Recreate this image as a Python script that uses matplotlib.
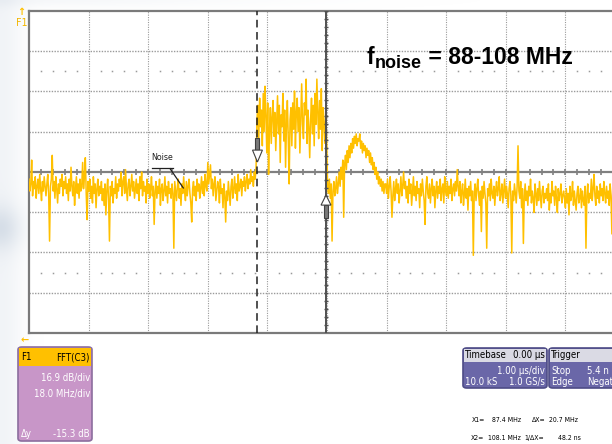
import os
import numpy as np
import matplotlib.pyplot as plt
import matplotlib.font_manager as fm
from matplotlib.patches import Polygon, FancyBboxPatch, Rectangle

# FFT(C3) trace, dB relative to the centre line,
# one value per 0.27 MHz bin starting at the left edge of the grid
noise_left = [-3, -8, -5, 5, -10, -4, -7, -2, -11, -6, -3, -9, -1, -7, -12, -4, -8, -2, -6, -10,
              -5, -1, -9, -29, -6, -3, 7, -8, -4, -11, -2, -7, -13, -5, -9, -3, -6, -1, -10, -4,
              -7, -2, -9, -5, -12, -3, -8, 2, -6, -10, -4, -14, -7, -2, -9, -5, -11, -3, -8, -6,
              4, -7, -2, 6, -9, -20, -4, -8, -3, -11, -6, -13, -2, -9, -5, -15, -7, -3, -10, -6,
              -9, -4, -12, -7, -14, -5, -18, -8, -3, -11, -29, -6, -10, -4, -13, -7, -9, -2, -11, -5,
              -8, -3, -6, 0, -10, -4, -2, -9, 1, -7, -12, -5, -3, -10, -6, -1, -8, -4, -11, -7,
              -3, -9, -5, -12, -2, -7, 0, -10, -4, -8, -6, -13, -3, -9, -5, -11, -7, -2, -10, -6,
              -22, -8, -4, -11, -6, -9, -3, -14, -7, -5, -12, -8, -2, -10, -6, -13, -4, -9, -7, -11,
              -5, -9, -32, -4, -8, -12, -6, -3, -11, -7, -14, -5, -9, -2, -8, -12, -4, -10, -6, -3,
              -9, -13, -21, -7, -4, -10, -6, -12, -3, -8, -5, -11, -7, -2, -9, -4, -10, -1, -6, -8,
              4, -5, -1, 3, -7, -3, -10, -5, -2, -12, -8, -4, -6, -13, -3, -9, -7, -15, -5, -10,
              -21, -8, -12, -4, -9, -14, -6, -3, -11, -7, -2, -9, -5, -12, -1, -8, -6, -3, -10, -4,
              -6, -2, -8, -4, -1, -7, -3, -5, 1, -4, -2, -6, 0, -3, 2]
noise_band = [22, 28, 14, 31, 19, 26, 11, 33, 17, 36, 24, 8, 29, -1, 18, 27, 12, 23, 30, 15,
              25, 9, 21, 32, 16, 28, 4, 24, 19, 33, 13, 26, 2, 20, 30, 14, -5, 22, 27, 11,
              29, 18, 34, 10, 25, 31, 17, 27, 8, 23, 37, 20, 14, 29, 24, 39, 12, 26, 19, 6,
              22, 31, 16, 28, 11, 33, 20, 39, 25, 14, 30, 18, 35, 9, 27, 21, 12, 24]
noise_bump = [12, -6, -9, -3, -11, -5, -29, -8, -4, -10, -7, -2, -9, -5, 0, -6, 2, -3, 5, -19,
              3, 7, 1, 9, 4, 11, 6, 12, 8, 14, 10, 15, 12, 16, 11, 14, 13, 16, 10, 13,
              8, 12, 9, 11, 6, 10, 7, 9, 4, 8, 3, 6, 1, 4, -1, 2, -3, 0, -5, -2,
              -6, -3, -8, -4, -9, -5]
noise_right = [-5, -9, -3, -11, -6, -2, -8, -19, -10, -4, -12, -7, -3, -9, -5, -13, -8, -2, -10, -6,
               0, -7, -4, -11, -6, -13, -3, -9, -5, -14, -8, -2, -10, -6, -12, -4, -9, -7, -15, -5,
               -10, -3, -8, -12, -22, -6, -2, -9, -11, -5, -13, -7, -3, -10, -6, -15, -8, -4, -11, -6,
               -9, -3, -12, -7, -5, -13, -2, -8, -10, -4, -11, -6, -9, -3, -12, -7, -5, -10, -4, -8,
               1, -6, -10, -4, -13, -8, -5, -14, -9, -3, -11, -7, -16, -6, -10, -4, -12, -8, -35, -9,
               -5, -12, -7, -3, -10, -14, -8, -25, -6, -11, -4, -9, -13, -32, -7, -10, -5, -12, -3, -9,
               -11, -6, -14, -8, -4, -10, -7, -2, -12, -9, -5, -13, -8, -3, -11, -6, -9, -15, -7, -4,
               -10, -34, -8, -12, -5, -9, -13, -6, 11, -8, -11, -4, -15, -7, -30, -10, -5, -12, -8, -14,
               -6, -10, -3, -13, -8, -11, -17, -5, -9, -14, -7, -12, -4, -10, -15, -8, -6, -13, -9, -11,
               -7, -12, -5, -16, -9, -13, -4, -10, -8, -14, -6, -11, -17, -7, -12, -9, -5, -13, -10, -8,
               -11, -15, -7, -13, -9, -18, -6, -12, -10, -4, -14, -8, -12, -16, -9, -6, -13, -11, -7, -15,
               -8, -12, -14, -6, -32, -10, -5, -13, -9, -11, -3, -12, -7, -1, -10, -14, -6, -11, -8, -13,
               -5, -10, -7, -12, -4, -9, -13, -6, -11, -8, -14, -5, -10, -26, -7, -12, -6, -9]

f_start = 18.4      # MHz at left edge of screen
f_step = 0.27       # MHz per bin
mhz_per_div = 18.0
db_per_div = 16.9
x1_mhz = 87.4
x2_mhz = 108.1

level = np.array(noise_left + noise_band + noise_bump + noise_right, dtype=float)
freq = f_start + f_step * np.arange(len(level))

W, H = 612, 444
GOLD = '#FFC000'

# scope readouts use a narrow sans; take a condensed face if one is installed
narrow_file = None
for key in ['LiberationSansNarrow-Regular', 'DejaVuSansCondensed.ttf']:
    for f in fm.fontManager.ttflist:
        if os.path.basename(f.fname).startswith(key):
            narrow_file = f.fname
            break
    if narrow_file:
        break


def nfont(size):
    if narrow_file:
        return fm.FontProperties(fname=narrow_file, size=size)
    return fm.FontProperties(family='Liberation Sans', size=size)


def fx(x):
    return x / W


def fy(y):
    return 1 - y / H


fig = plt.figure(figsize=(W / 100, H / 100), dpi=100)
fig.canvas.draw()
r = fig.canvas.get_renderer()


def fit_size(s, target_px):
    t = fig.text(0, 0, s, fontproperties=nfont(10))
    w = t.get_window_extent(r).width
    t.remove()
    return 10 * target_px / w


panel_size = fit_size('16.9 dB/div', 45) * 1.1
read_size = fit_size('108.1 MHz', 33)

# slide background swoosh at the left edge
bg = fig.add_axes([0, 0, 1, 1], zorder=-5)
yy, xx = np.mgrid[0:H, 0:W]
a = np.exp(-(xx / 22.0) ** 2) * (0.18 + 0.35 * np.exp(-((yy - 228) / 22.0) ** 2)) \
    + 0.12 * np.exp(-(yy / 8.0) ** 2) * np.exp(-(xx / 260.0) ** 2)
a = np.clip(a, 0, 1)
img = np.ones((H, W, 4))
img[..., 0] = 0.70
img[..., 1] = 0.76
img[..., 2] = 0.83
img[..., 3] = a
bg.imshow(img, extent=[0, W, H, 0], aspect='auto')
bg.set_xlim(0, W)
bg.set_ylim(H, 0)
bg.axis('off')

# scope grid: 10 x 8 divisions, right edge cut off by the screenshot
ax = fig.add_axes([fx(29), fy(333), (10 * 59.6) / W, 322 / H])
ax.set_facecolor('white')
ax.set_xlim(f_start, f_start + 10 * mhz_per_div)
ax.set_ylim(-4 * db_per_div, 4 * db_per_div)
ax.set_xticks([])
ax.set_yticks([])
for s in ['left', 'top', 'bottom']:
    ax.spines[s].set_color('#7A7A7A')
    ax.spines[s].set_linewidth(1.6)
ax.spines['right'].set_visible(False)

for i in range(1, 10):
    ax.axvline(f_start + i * mhz_per_div, color='#9A9A9A', lw=0.8, ls=(0, (1, 1.2)), zorder=1)
for j in [-3, -2, -1, 1, 2, 3]:
    ax.axhline(j * db_per_div, color='#9A9A9A', lw=1.0, ls=(0, (1, 1)), zorder=1)

steps = np.arange(0, 51) * 0.2
sub = f_start + steps * mhz_per_div
frac = np.abs(steps - np.round(steps))
minor = sub[frac > 0.05]
for yv in [2.5 * db_per_div, -2.5 * db_per_div]:
    ax.plot(minor, np.full(len(minor), yv), ls='', marker='s', ms=1.1, color='#9A9A9A', mew=0, zorder=1)

# centre axis with 1/5 div ticks
ax.axhline(0, color='#808080', lw=1.6, zorder=2)
ax.vlines(sub, -1.3, 1.3, color='#808080', lw=1.2, zorder=2)

# trace
ax.plot(freq, level, color='#FFC000', lw=1.1, zorder=3)

# cursors
ax.axvline(x1_mhz, color='#202020', lw=1.1, ls=(0, (5, 3)), zorder=4)
ax.axvline(x2_mhz, color='#505050', lw=1.4, zorder=4)
ax.hlines(np.arange(-4, 4.01, 0.2) * db_per_div, x2_mhz - 0.6, x2_mhz + 0.6,
          color='#505050', lw=1.0, zorder=4)


def cursor_arrow(x, tip, head_base, tail):
    hw, sw = 1.5, 0.6
    shaft = Polygon([(x - sw, tail), (x + sw, tail), (x + sw, head_base), (x - sw, head_base)],
                    closed=True, facecolor='#7A7A7A', edgecolor='#404040', lw=0.8, zorder=6)
    head = Polygon([(x - hw, head_base), (x + hw, head_base), (x, tip)],
                   closed=True, facecolor='white', edgecolor='#404040', lw=0.8, zorder=6)
    ax.add_patch(shaft)
    ax.add_patch(head)


cursor_arrow(x1_mhz, 4.2, 9.2, 14.3)
cursor_arrow(x2_mhz, -9.7, -13.9, -19.3)

# "Noise" annotation
ax.text(58.6, 5.9, 'Noise', ha='center', va='center', fontproperties=nfont(fit_size('Noise', 22)),
        color='#202020', zorder=7)
ax.plot([55.5, 61.8], [1.6, 1.6], color='#202020', lw=0.9, zorder=7)
ax.plot([61.0, 65.0], [1.4, -6.7], color='#202020', lw=0.9, zorder=7)

# f_noise label
t = fig.text(fx(367), fy(64), 'f', fontsize=16.5, fontweight='bold', family='Liberation Sans', va='baseline')
bb = t.get_window_extent(r)
t2 = fig.text(bb.x1 / W + 0.001, fy(68), 'noise', fontsize=13, fontweight='bold', family='Liberation Sans', va='baseline')
bb2 = t2.get_window_extent(r)
fig.text(bb2.x1 / W, fy(64), ' = 88-108 MHz', fontsize=16.5, fontweight='bold', family='Liberation Sans', va='baseline')

# F1 marker and reference arrows
fig.text(fx(21), fy(7), '\u2191', color=GOLD, fontsize=7, ha='center', va='top', fontweight='bold')
fig.text(fx(22), fy(23), 'F1', color='#F2B600', fontproperties=nfont(panel_size * 1.1), ha='center', va='center')
fig.text(fx(25), fy(340), '\u2190', color=GOLD, fontsize=7, ha='center', va='center', fontweight='bold')


def panel(x0, y0, x1, y1, face, edge):
    p = FancyBboxPatch((fx(x0), fy(y1)), fx(x1) - fx(x0), fy(y0) - fy(y1),
                       boxstyle='round,pad=0,rounding_size=0.006', transform=fig.transFigure,
                       facecolor=face, edgecolor=edge, lw=1.2, zorder=1)
    fig.add_artist(p)


def header(x0, y0, x1, y1, face):
    fig.add_artist(Rectangle((fx(x0), fy(y1)), fx(x1) - fx(x0), fy(y0) - fy(y1),
                             transform=fig.transFigure, facecolor=face, edgecolor='none', zorder=2))


def ptext(x, y, s, ha='left', color='white', size=None):
    fig.text(fx(x), fy(y), s, ha=ha, va='center', color=color,
             fontproperties=nfont(size or panel_size), zorder=3)


# F1 panel
panel(18, 347, 92, 441, '#C896C8', '#8C6E9E')
header(19, 348, 91, 366, GOLD)
ptext(21, 357, 'F1', color='black')
ptext(90, 357, 'FFT(C3)', ha='right', color='black')
ptext(90, 378, '16.9 dB/div', ha='right')
ptext(90, 394, '18.0 MHz/div', ha='right')
ptext(21, 434, '\u0394y')
ptext(90, 434, '-15.3 dB', ha='right')

# Timebase panel
panel(463, 348, 547, 388, '#6A67A8', '#4E4C86')
header(464, 349, 546, 362, '#DADAE4')
ptext(465, 355, 'Timebase', color='black')
ptext(545, 355, '0.00 \u00b5s', ha='right', color='black')
ptext(545, 371, '1.00 \u00b5s/div', ha='right')
ptext(465, 382, '10.0 kS')
ptext(545, 382, '1.0 GS/s', ha='right')

# Trigger panel (runs off the right edge)
panel(549, 348, 640, 388, '#6A67A8', '#4E4C86')
header(550, 349, 639, 362, '#DADAE4')
ptext(551, 355, 'Trigger', color='black')
ptext(551, 371, 'Stop')
ptext(587, 371, '5.4 n')
ptext(551, 382, 'Edge')
ptext(587, 382, 'Negat')

# cursor readouts
ptext(472, 420, 'X1=', color='black', size=read_size)
ptext(521, 420, '87.4 MHz', ha='right', color='black', size=read_size)
ptext(532, 420, '\u0394X=', color='black', size=read_size)
ptext(578, 420, '20.7 MHz', ha='right', color='black', size=read_size)
ptext(471, 438, 'X2=', color='black', size=read_size)
ptext(521, 438, '108.1 MHz', ha='right', color='black', size=read_size)
ptext(524, 438, '1/\u0394X=', color='black', size=read_size)
ptext(581, 438, '48.2 ns', ha='right', color='black', size=read_size)

fig.savefig('out.png', dpi=100)
plt.close(fig)
